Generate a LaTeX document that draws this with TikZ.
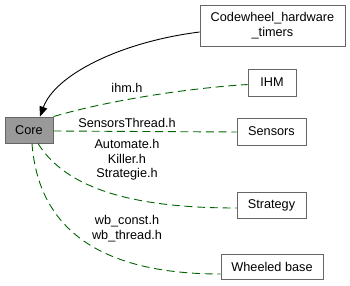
\documentclass[tikz,border=0pt]{standalone}
\usepackage{fontspec}
\setmainfont{Liberation Sans}
\usetikzlibrary{arrows.meta}
\definecolor{boxline}{HTML}{666666}
\definecolor{corefill}{HTML}{999999}
\definecolor{depgreen}{HTML}{006400}
\tikzset{
  box/.style={draw=boxline, line width=0.9pt, fill=white, inner sep=0pt, align=center,
    font=\fontsize{12.7}{14.5}\selectfont},
  corebox/.style={box, fill=corefill},
  dep/.style={draw=depgreen, line width=0.9pt, dash pattern=on 8pt off 4.7pt},
  lbl/.style={inner sep=0pt, align=center, font=\fontsize{12.7}{14.5}\selectfont},
}
\begin{document}
\begin{tikzpicture}[x=1pt,y=-1pt]
\useasboundingbox (0,0) rectangle (350,285);
\node[corebox, minimum width=48pt, minimum height=26pt] (core) at (29,130) {Core};
\node[box, minimum width=145pt, minimum height=41pt] (cw) at (272.5,25.5) {Codewheel\_hardware\\\_timers};
\node[box, minimum width=48pt, minimum height=27pt] (ihm) at (272,82.5) {IHM};
\node[box, minimum width=69pt, minimum height=27pt] (sens) at (271.5,131.5) {Sensors};
\node[box, minimum width=69pt, minimum height=26pt] (strat) at (271.5,205.5) {Strategy};
\node[box, minimum width=102pt, minimum height=25pt] (wb) at (272,266.5) {Wheeled base};

\draw[line width=0.9pt, -{Triangle[length=10pt,width=8pt]}]
  ([yshift=-6.5pt]cw.west) .. controls (120,42) and (55,75) .. ([xshift=11pt]core.north);

\draw[dep] (core.north east) .. controls (110,100) and (190,88) .. ([yshift=-2pt]ihm.west);
\draw[dep] ([yshift=-1pt]core.east) -- ([yshift=-0.5pt]sens.west);
\draw[dep] ([xshift=9pt]core.south) .. controls (70,195) and (150,208) .. ([yshift=-2.5pt]strat.west);
\draw[dep] ([xshift=3pt]core.south) .. controls (38,225) and (95,274) .. ([yshift=-7.5pt]wb.west);

\node[lbl] (l1) at (127,88) {ihm.h};
\node[lbl] (l2) at (127,123) {SensorsThread.h};
\node[lbl] (l3) at (127,160) {Automate.h\\Killer.h\\Strategie.h};
\node[lbl] (l4) at (127,228.5) {wb\_const.h\\wb\_thread.h};
\end{tikzpicture}
\end{document}
